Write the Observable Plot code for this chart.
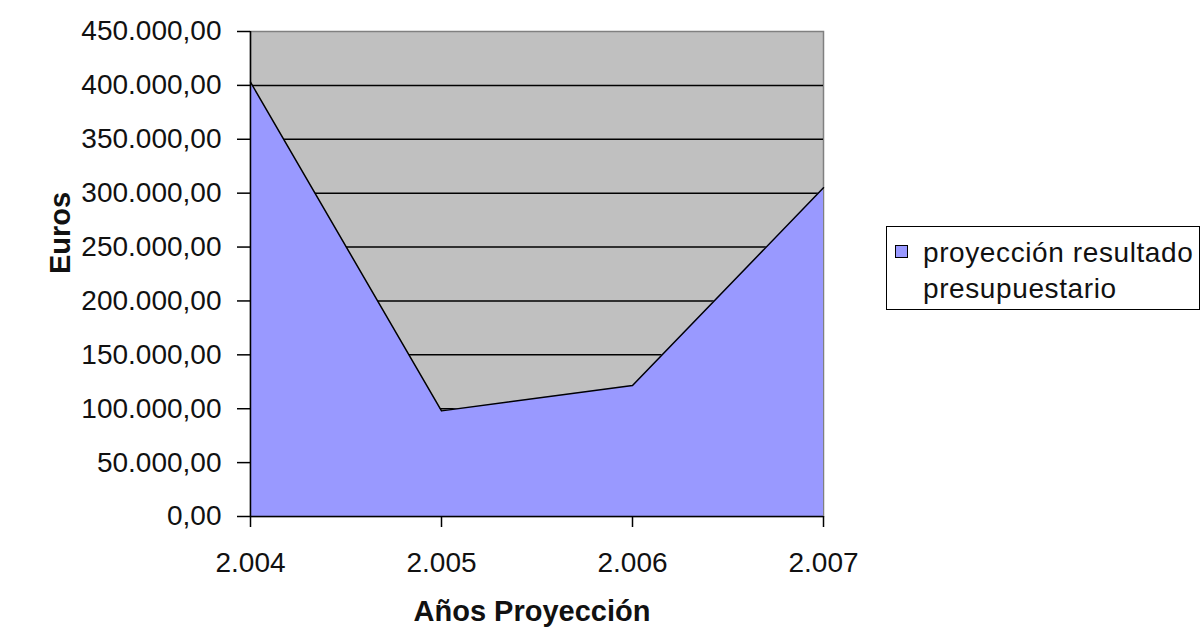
<!DOCTYPE html>
<html>
<head>
<meta charset="utf-8">
<script src="https://cdn.jsdelivr.net/npm/d3@7"></script>
<script src="https://cdn.jsdelivr.net/npm/@observablehq/plot@0.6"></script>
<style>
  html, body { margin: 0; padding: 0; background: #fff; }
  #wrap { position: relative; width: 1204px; height: 628px; overflow: hidden; }
  #legend {
    position: absolute; left: 886px; top: 226px; width: 314px; height: 84px;
    border: 1.5px solid #000; background: #fff; box-sizing: border-box;
    font-family: "Liberation Sans", Arial, sans-serif; font-size: 28px; letter-spacing: 0.6px;
    color: #111;
  }
  #legend .sw {
    position: absolute; left: 8px; top: 18px; width: 11px; height: 11px;
    border: 1.2px solid #000; background: #9999ff;
  }
  #legend .t1 { position: absolute; left: 36px; top: 8px; line-height: 36px; white-space: nowrap; }
</style>
</head>
<body>
<div id="wrap">
  <div id="chart"></div>
  <div id="legend"><div class="sw"></div><div class="t1">proyección resultado<br>presupuestario</div></div>
</div>
<script>
// Budget result projection, in euros
const years = [2004, 2005, 2006, 2007];
const euros = [403000, 98000, 121500, 305000];
const yTicks = [0, 50000, 100000, 150000, 200000, 250000, 300000, 350000, 400000, 450000];
const seriesName = "proyección resultado presupuestario";

const data = years.map((year, i) => ({year, value: euros[i]}));

// Spanish number formatting: "." for thousands, "," for decimals
const es = d3.formatLocale({decimal: ",", thousands: ".", grouping: [3], currency: ["", " €"]});
const fmtY = es.format(",.2f");
const fmtX = es.format(",d");

const font = "'Liberation Sans', Arial, sans-serif";

const chart = Plot.plot({
  width: 1204,
  height: 628,
  marginLeft: 250,
  marginRight: 381,
  marginTop: 31,
  marginBottom: 112,
  style: {fontFamily: font, fontSize: "28px", color: "#111", background: "#fff"},
  x: {domain: [2004, 2007], ticks: years},
  y: {domain: [0, 450000], ticks: yTicks},
  marks: [
    Plot.frame({fill: "#c0c0c0", stroke: "#808080", strokeWidth: 1.5}),
    Plot.ruleY(yTicks.filter(d => d > 0 && d < 450000), {stroke: "#000", strokeWidth: 1.5}),
    Plot.areaY(data, {x: "year", y: "value", fill: "#9999ff"}),
    Plot.lineY(data, {x: "year", y: "value", stroke: "#000", strokeWidth: 1.5}),
    Plot.ruleX([2004], {stroke: "#000", strokeWidth: 1.5}),
    Plot.ruleY([0], {stroke: "#000", strokeWidth: 1.5}),
    Plot.axisY({ticks: yTicks, tickFormat: fmtY, tickSize: 13, tickPadding: 16, label: null,
      stroke: "#000", strokeWidth: 1.5, fill: "#111", style: {letterSpacing: "0.4px"}}),
    Plot.axisX({ticks: years, tickFormat: fmtX, tickSize: 11, tickPadding: 25, label: null,
      stroke: "#000", strokeWidth: 1.5, fill: "#111", style: {letterSpacing: "0.4px"}}),
    Plot.text(["Euros"], {frameAnchor: "left", dx: -190, rotate: -90, lineAnchor: "middle",
      fontWeight: "bold", fontSize: 29, fill: "#111"}),
    Plot.text(["Años Proyección"], {frameAnchor: "bottom", dx: -5, dy: 95, lineAnchor: "middle",
      fontWeight: "bold", fontSize: 29, fill: "#111"})
  ]
});
chart.setAttribute("aria-label", seriesName);
document.getElementById("chart").appendChild(chart);
</script>
</body>
</html>
